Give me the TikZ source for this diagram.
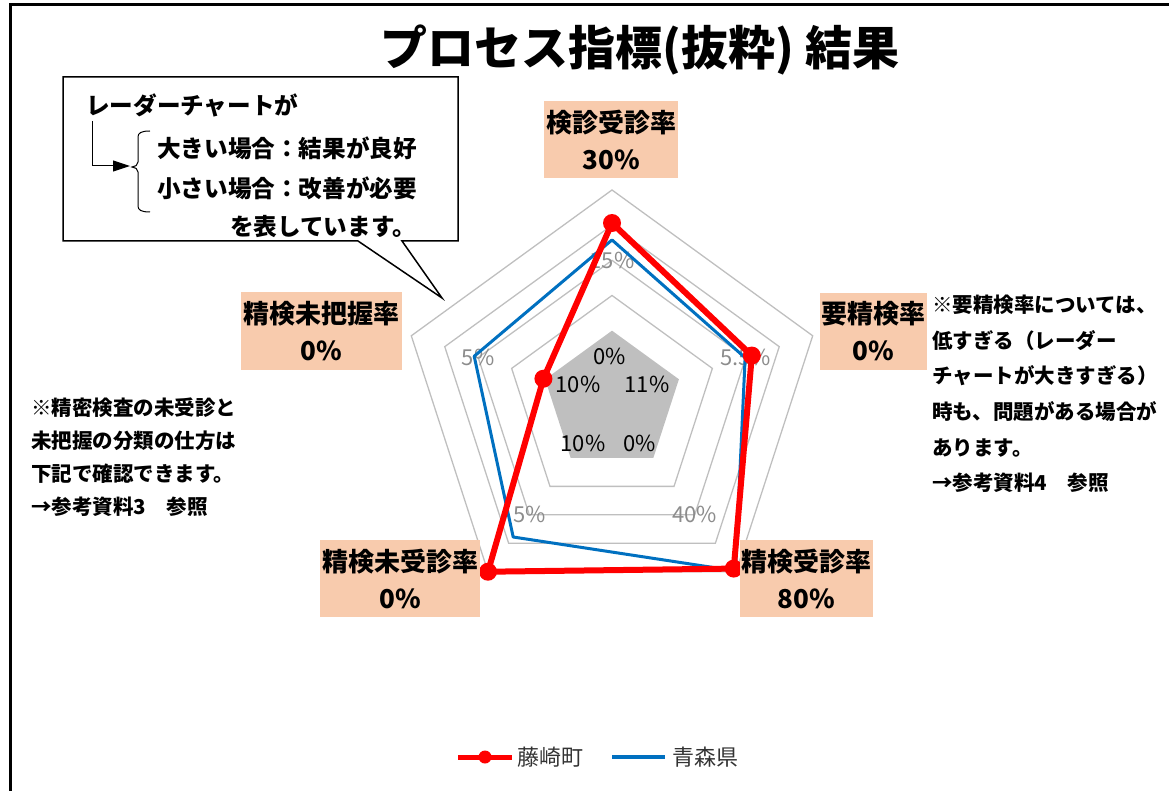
\documentclass[tikz,border=0pt]{standalone}
\usepackage{fontspec}
\newfontfamily\jpfont{Noto Sans CJK JP}
\usetikzlibrary{arrows.meta}
\definecolor{peach}{HTML}{F8CBAD}
\definecolor{gridgray}{HTML}{BFBFBF}
\definecolor{axisgray}{HTML}{8C8C8C}
\definecolor{townred}{HTML}{FF0000}
\definecolor{prefblue}{HTML}{0070C0}
\tikzset{
	labelbox/.style={fill=peach, inner sep=0pt, align=center, minimum height=77pt,
		font=\jpfont\bfseries\fontsize{26}{37}\selectfont},
	notetext/.style={anchor=north west, inner sep=0pt, align=left},
	calltext/.style={anchor=west, inner sep=0pt, font=\jpfont\bfseries\fontsize{23.6}{28}\selectfont},
	gridline/.style={draw=gridgray, line width=1.3pt},
	axislabel/.style={text=axisgray, inner sep=0pt, font=\jpfont\fontsize{22}{26}\selectfont},
	innerlabel/.style={inner sep=0pt, font=\jpfont\fontsize{22}{26}\selectfont},
	townline/.style={draw=townred, line width=6pt, line join=round},
	prefline/.style={draw=prefblue, line width=3pt, line join=round},
	legendtext/.style={anchor=west, inner sep=0pt, text=black!80, font=\jpfont\fontsize{22}{26}\selectfont},
}

\begin{document}
\begin{tikzpicture}[x=1pt,y=1pt]
\useasboundingbox (0,0) rectangle (1169,-791);
% frame and title
\draw[line width=3pt] (10,-791) -- (10,-5) -- (1169,-5);
\node[inner sep=0pt, font=\jpfont\bfseries\fontsize{47}{50}\selectfont] (title) at (640,-50) {プロセス指標(抜粋) 結果};

% radar grid
\begin{scope}[shift={(612,-401)}, scale=35.17]
\fill[gridgray] (90:2) -- (18:2) -- (-54:2) -- (-126:2) -- (162:2) -- cycle;
\draw[gridline] (90:3) -- (18:3) -- (-54:3) -- (-126:3) -- (162:3) -- cycle;
\draw[gridline] (90:4) -- (18:4) -- (-54:4) -- (-126:4) -- (162:4) -- cycle;
\draw[gridline] (90:5) -- (18:5) -- (-54:5) -- (-126:5) -- (162:5) -- cycle;
\draw[gridline] (90:6) -- (18:6) -- (-54:6) -- (-126:6) -- (162:6) -- cycle;
\node[axislabel] (axtop) at (90:4) {15\%};
\node[axislabel] (axright) at (18:4) {5.5\%};
\node[axislabel] (axlowright) at (-54:4) {40\%};
\node[axislabel] (axlowleft) at (-126:4) {5\%};
\node[axislabel] (axleft) at (162:4) {5\%};
\end{scope}
\node[innerlabel] (intop) at (610,-356) {0\%};
\node[innerlabel] (inleft) at (578,-384) {10\%};
\node[innerlabel] (inright) at (647,-384) {11\%};
\node[innerlabel] (inlowleft) at (583,-443) {10\%};
\node[innerlabel] (inlowright) at (640,-443) {0\%};

% data
\begin{scope}[shift={(612,-401)}, scale=35.17]
\coordinate (t1) at (90:5.06);
\coordinate (t2) at (18:4.18);
\coordinate (t3) at (-54:5.89);
\coordinate (t4) at (-126:6);
\coordinate (t5) at (162:2.05);
\draw[prefline] (90:4.58) -- (18:3.98) -- (-54:5.97) -- (-126:4.78) -- (162:4.12) -- cycle;
\end{scope}
\draw[townline] (t1) -- (t2) -- (t3) -- (t4) -- (t5) -- cycle;
\fill[townred] (t1) circle (9pt);
\fill[townred] (t2) circle (9pt);
\fill[townred] (t3) circle (9pt);
\fill[townred] (t4) circle (9pt);
\fill[townred] (t5) circle (9pt);

% axis names
\node[labelbox, minimum width=134pt] (kenshin) at (611,-139.5) {検診受診率\\30\%};
\node[labelbox, minimum width=107pt] (yoseiken) at (873.5,-331.5) {要精検率\\0\%};
\node[labelbox, minimum width=133pt] (jushin) at (806.5,-578.5) {精検受診率\\80\%};
\node[labelbox, minimum width=160pt] (mijushin) at (400,-578.5) {精検未受診率\\0\%};
\node[labelbox, minimum width=161pt] (mihaaku) at (321.5,-331) {精検未把握率\\0\%};

% callout
\draw[line width=1.5pt, fill=white] (63,-77) -- (458,-77) -- (458,-241) -- (402,-241) -- (442,-298) -- (358,-241) -- (63,-241) -- cycle;
\node[calltext] (radar) at (86,-105) {レーダーチャートが};
\node[calltext] (large) at (157,-148) {大きい場合：結果が良好};
\node[calltext] (small) at (157,-188) {小さい場合：改善が必要};
\node[calltext] (shows) at (230,-227) {を表しています。};
\coordinate (arrstart) at (92,-121);
\coordinate (arrend) at (130,-166);
\draw[line width=1pt, -{Triangle[length=17pt,width=11pt]}] (arrstart) |- (arrend);
\draw[line width=1pt] (150,-131) .. controls (141,-131) and (138,-133) .. (138,-137) -- (138,-162)
	.. controls (138,-165) and (135,-167) .. (132,-167)
	.. controls (135,-167) and (138,-169) .. (138,-172) -- (138,-206)
	.. controls (138,-210) and (141,-212) .. (150,-212);

% notes
\node[notetext, font=\jpfont\bfseries\fontsize{20.5}{33}\selectfont] (leftnote) at (31,-398) {※精密検査の未受診と\\未把握の分類の仕方は\\下記で確認できます。\\→参考資料3　参照};
\node[notetext, font=\jpfont\bfseries\fontsize{20.5}{35.6}\selectfont] (rightnote) at (932,-295) {※要精検率については、\\低すぎる（レーダー\\チャートが大きすぎる）\\時も、問題がある場合が\\あります。\\→参考資料4　参照};

% legend
\coordinate (townA) at (458,-757);
\coordinate (townB) at (512,-757);
\draw[draw=townred, line width=5pt] (townA) -- (townB);
\fill[townred] (485,-757) circle (6.5pt);
\node[legendtext] (townname) at (517,-757) {藤崎町};
\coordinate (prefA) at (612,-757);
\coordinate (prefB) at (665,-757);
\draw[draw=prefblue, line width=3.5pt] (prefA) -- (prefB);
\node[legendtext] (prefname) at (672,-757) {青森県};
\end{tikzpicture}
\end{document}
